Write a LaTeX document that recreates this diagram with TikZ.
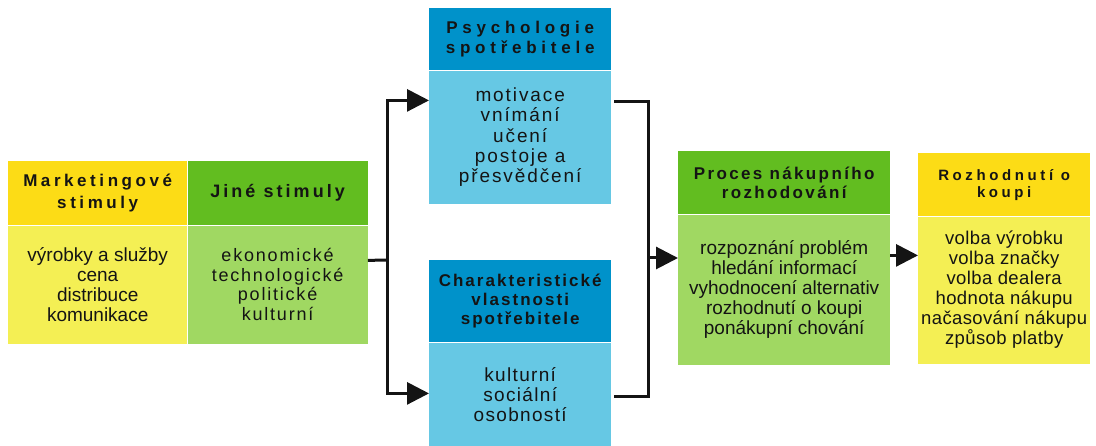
\documentclass[tikz,border=0pt]{standalone}
\usepackage{fontspec}
\setmainfont{Liberation Sans}
\usetikzlibrary{arrows.meta, positioning, calc}

\definecolor{yelhead}{RGB}{252,220,22}
\definecolor{yelbody}{RGB}{244,239,84}
\definecolor{grnhead}{RGB}{98,189,32}
\definecolor{grnbody}{RGB}{160,216,98}
\definecolor{bluhead}{RGB}{0,146,202}
\definecolor{blubody}{RGB}{102,200,228}
\definecolor{ink}{RGB}{20,20,20}

% size, leading, letter spacing
\newcommand{\trk}[3]{\fontsize{#1}{#2}\selectfont\addfontfeature{LetterSpace=#3}}

\begin{document}
\begin{tikzpicture}[
  x=1pt, y=-1pt,
  box/.style  = {anchor=north west, inner sep=0pt, align=center, text=ink},
  line/.style = {line width=3pt, ink},
  arr/.style  = {line, -{Triangle[length=22pt, width=22pt]}},
]
\useasboundingbox (0,0) rectangle (1096,446);

%% -- stimuli --------------------------------------------------------------
\node[box, fill=yelhead, minimum width=179, minimum height=64,
      font=\bfseries\trk{17}{22}{21}] (mkthead) at (8,161)
  {Marketingové\\stimuly};
\node[box, fill=yelbody, minimum width=179, minimum height=118,
      font=\trk{19}{20}{0}] (mktbody) at (mkthead.south west)
  {výrobky a služby\\cena\\distribuce\\komunikace};

\node[box, fill=grnhead, minimum width=180, minimum height=64,
      font=\bfseries\trk{18}{22}{17}] (jinehead) at (mkthead.north east)
  {Jiné stimuly};
\node[box, fill=grnbody, minimum width=180, minimum height=118,
      font=\trk{18}{19.5}{10}] (jinebody) at (jinehead.south west)
  {ekonomické\\technologické\\politické\\kulturní};

%% -- buyer ----------------------------------------------------------------
\node[box, fill=bluhead, minimum width=182, minimum height=62,
      font=\bfseries\trk{17}{20}{28}] (psyhead) at (429,8)
  {Psychologie\\spotřebitele};
\node[box, fill=blubody, minimum width=182, minimum height=133,
      font=\trk{19}{20.3}{10}] (psybody) at (psyhead.south west)
  {motivace\\vnímání\\učení\\postoje a\\přesvědčení};

\node[box, fill=bluhead, minimum width=182, minimum height=82,
      font=\bfseries\trk{17}{19.3}{12}] (charhead) at (429,260)
  {Charakteristické\\vlastnosti\\spotřebitele};
\node[box, fill=blubody, minimum width=182, minimum height=104,
      font=\trk{19}{20}{7}] (charbody) at (charhead.south west)
  {kulturní\\sociální\\osobností};

%% -- decision -------------------------------------------------------------
\node[box, fill=grnhead, minimum width=212, minimum height=63,
      font=\bfseries\trk{17}{19}{14}] (prochead) at (678,151)
  {Proces nákupního\\rozhodování};
\node[box, fill=grnbody, minimum width=212, minimum height=150,
      font=\trk{19}{20}{0}] (procbody) at (prochead.south west)
  {rozpoznání problém\\hledání informací\\vyhodnocení alternativ\\rozhodnutí o koupi\\ponákupní chování};

\node[box, fill=yelhead, minimum width=172, minimum height=63,
      font=\bfseries\trk{15}{17}{24}] (rozhead) at (918,153)
  {Rozhodnutí o\\koupi};
\node[box, fill=yelbody, minimum width=172, minimum height=147,
      font=\trk{18.5}{20}{2}] (rozbody) at (rozhead.south west)
  {volba výrobku\\volba značky\\volba dealera\\hodnota nákupu\\načasování nákupu\\způsob platby};

%% -- connectors -----------------------------------------------------------
\coordinate (fork) at (387,260);
\coordinate (join) at (648,258);
\draw[line] ($(jinebody.north east)+(0,35)$) -- (fork);
\draw[arr] (fork) |- ($(psybody.north west)+(0,30)$);
\draw[arr] (fork) |- ($(charbody.north west)+(0,51)$);
\draw[line] ($(psybody.north east)+(3,31)$) -| (join);
\draw[line] ($(charbody.north east)+(3,54)$) -| (join);
\draw[arr] (join) -- (join -| procbody.west);
\draw[arr] ($(procbody.north east)+(0,41)$) -- ($(rozbody.north west)+(0,39)$);

\end{tikzpicture}
\end{document}
